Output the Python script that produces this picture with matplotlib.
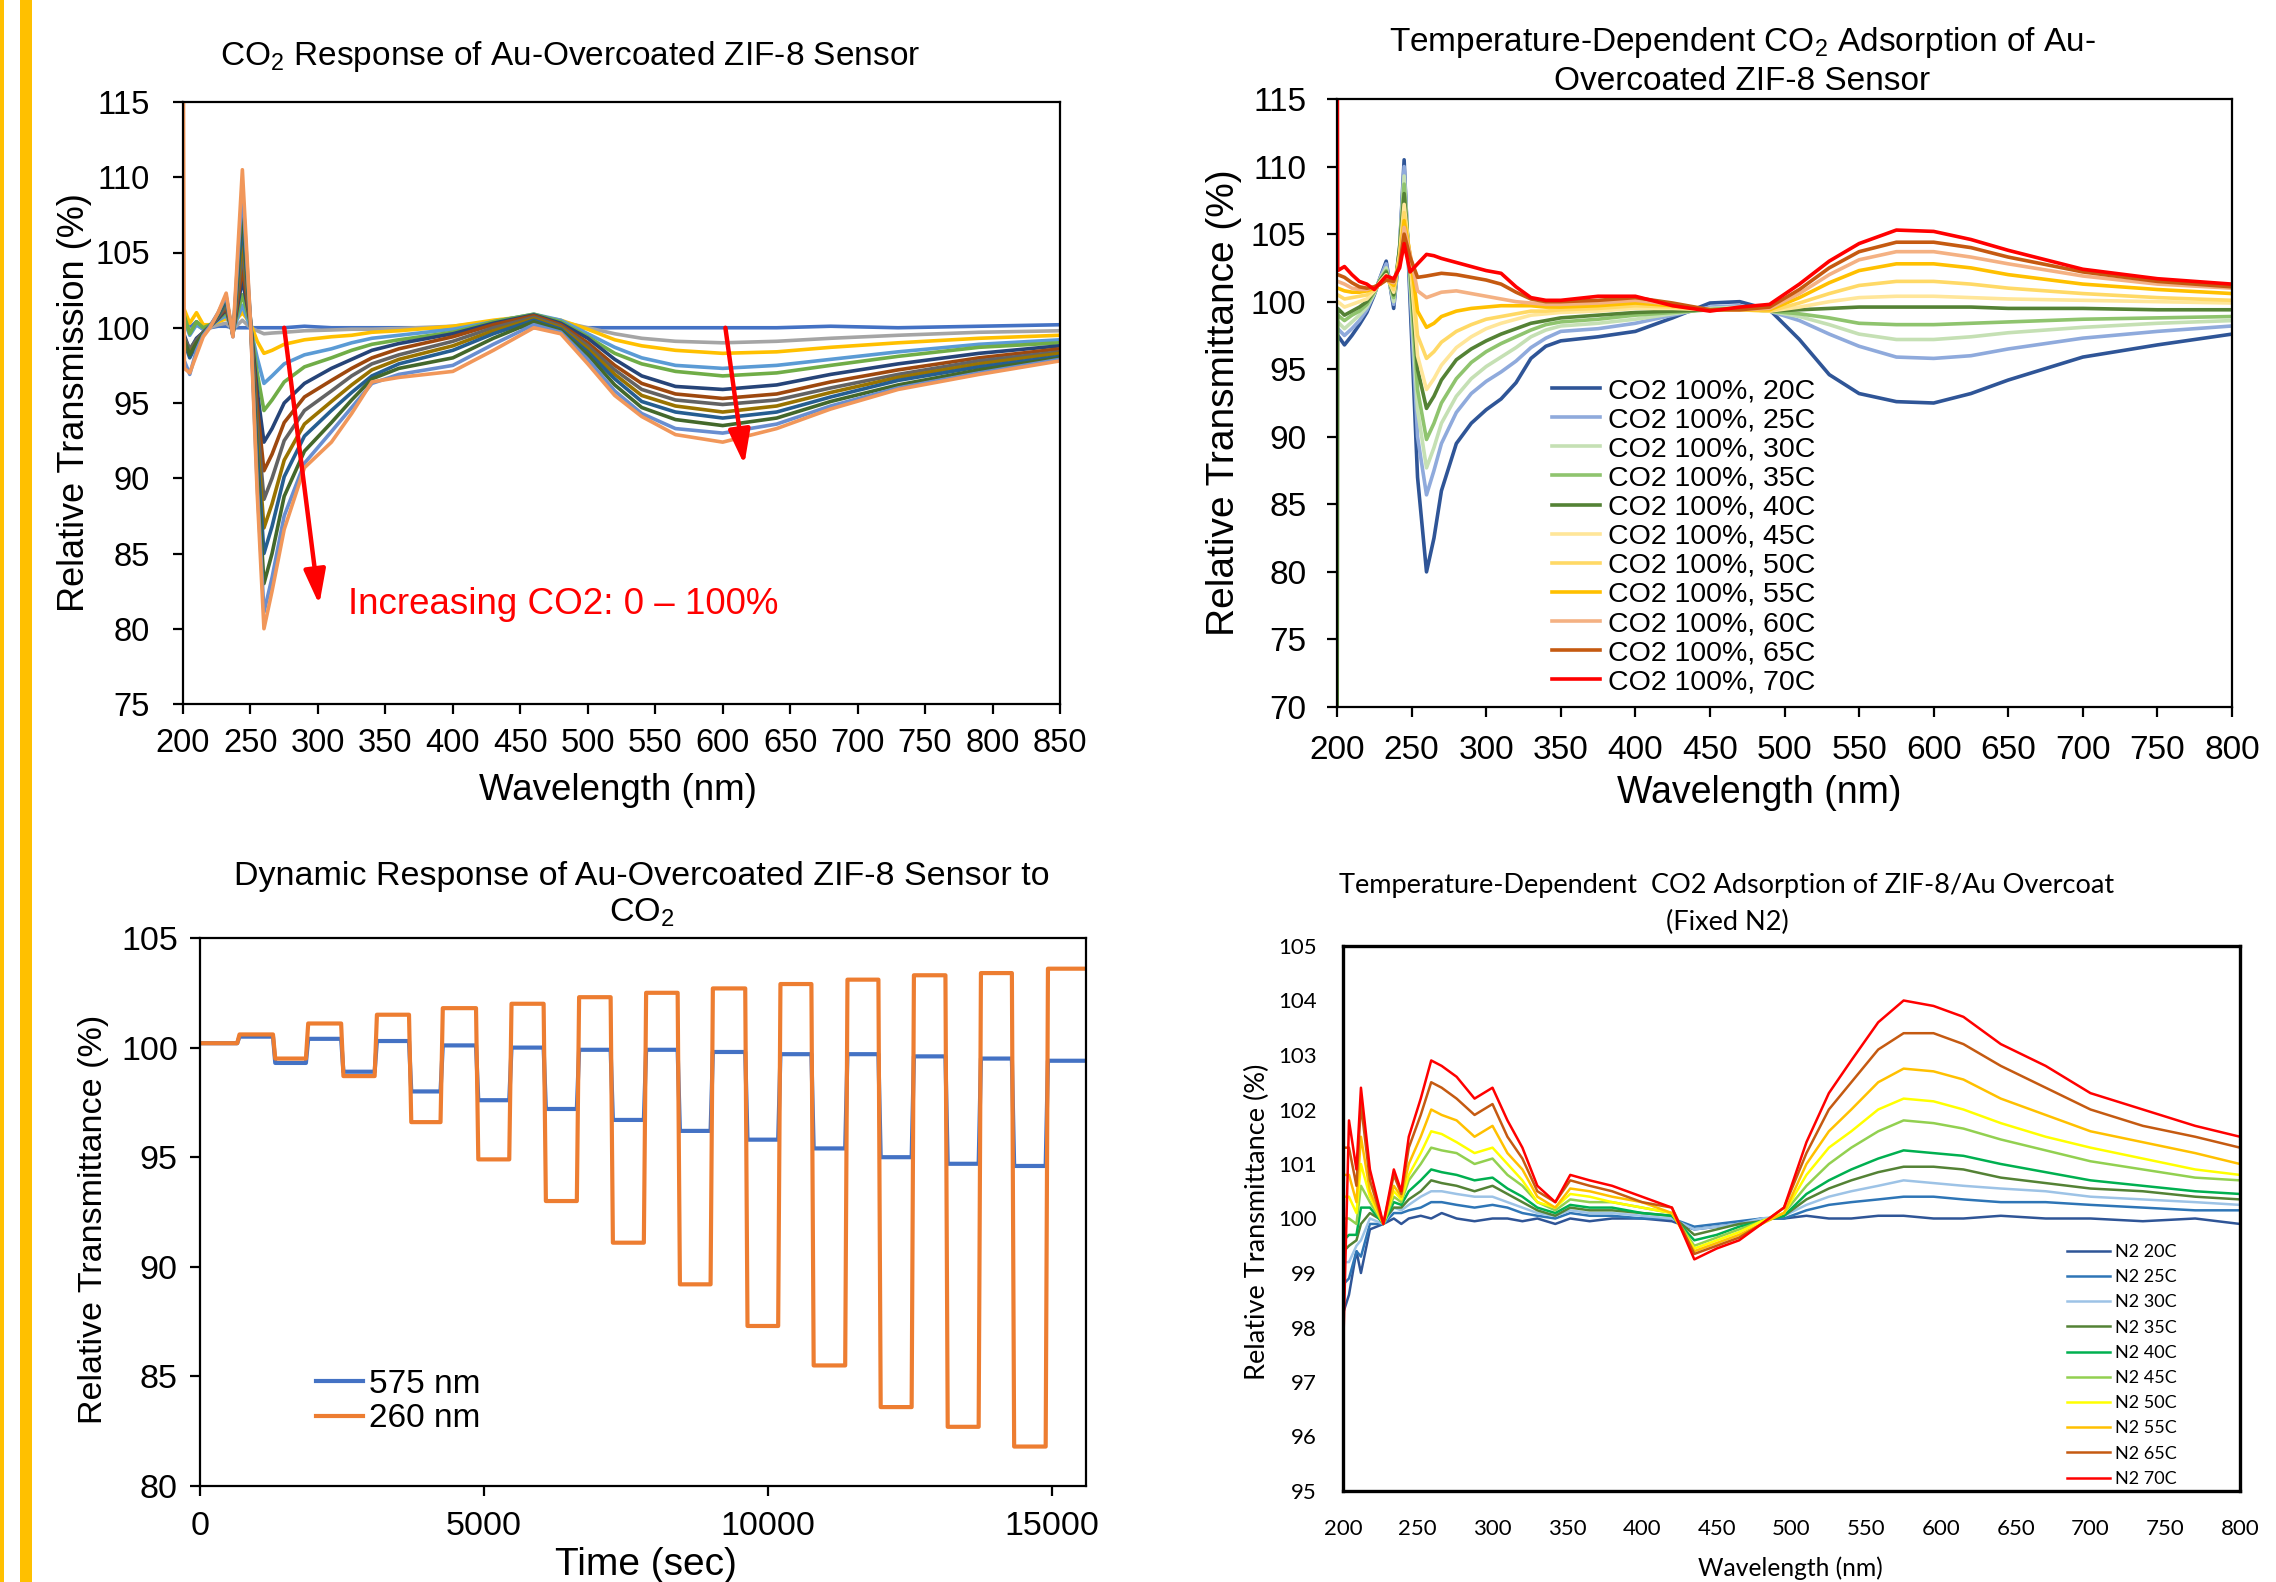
import matplotlib
matplotlib.use("Agg")
import matplotlib.pyplot as plt
from matplotlib.patches import Rectangle

plt.rcParams['font.family'] = ['Liberation Sans', 'DejaVu Sans']
plt.rcParams['mathtext.fontset'] = 'custom'
plt.rcParams['mathtext.rm'] = 'Liberation Sans'
plt.rcParams['mathtext.it'] = 'Liberation Sans:italic'
plt.rcParams['mathtext.bf'] = 'Liberation Sans:bold'

# ---------------- panel 1: CO2 response, 0 - 100 % CO2 ----------------
wl_1 = [200, 201, 205, 210, 215, 220, 226, 232, 237, 244, 250, 255, 260, 266, 275, 290,
        310, 325, 340, 360, 400, 430, 460, 480, 500, 520, 540, 565, 600, 640, 680, 730, 790, 850]
co2_colors = ['#4472C4', '#A5A5A5', '#FFC000', '#5B9BD5', '#70AD47', '#264478', '#9E480E',
              '#636363', '#997300', '#255E91', '#43682B', '#698ED0', '#F1975A']
co2_s00 = [100.3, 100.3, 100.0, 100.4, 99.9, 100.0, 100.1, 100.1, 100.0, 100.0, 100.0,
           100.0, 100.0, 100.0, 100.0, 100.1, 100.0, 100.0, 100.0, 100.0, 100.0, 100.1, 100.0,
           100.0, 100.0, 100.0, 100.0, 100.0, 100.0, 100.0, 100.1, 100.0, 100.1, 100.2]
co2_s01 = [100.5, 100.5, 99.8, 100.2, 99.9, 100.0, 100.2, 100.3, 99.9, 100.5, 100.0,
           99.8, 99.6, 99.65, 99.7, 99.8, 99.85, 99.9, 99.9, 99.95, 100.1, 100.4, 100.6,
           100.4, 100.0, 99.6, 99.3, 99.1, 99.0, 99.1, 99.3, 99.5, 99.7, 99.8]
co2_s02 = [101.2, 101.2, 100.3, 101.0, 100.2, 100.2, 100.4, 100.6, 100.3, 101.0, 100.3,
           99.1, 98.3, 98.5, 98.9, 99.2, 99.4, 99.5, 99.7, 99.8, 100.1, 100.5, 100.8,
           100.5, 99.9, 99.2, 98.8, 98.5, 98.3, 98.4, 98.7, 99.0, 99.3, 99.5]
co2_s03 = [100.5, 100.5, 99.5, 100.2, 99.9, 100.1, 100.5, 100.8, 99.8, 101.5, 100.0,
           98.0, 96.3, 96.8, 97.6, 98.2, 98.6, 99.0, 99.3, 99.5, 99.9, 100.4, 100.9,
           100.5, 99.6, 98.7, 98.0, 97.5, 97.3, 97.5, 97.9, 98.4, 98.9, 99.2]
co2_s04 = [100.8, 100.8, 99.6, 100.4, 100.0, 100.2, 100.6, 101.0, 99.8, 102.2, 100.2,
           97.0, 94.5, 95.2, 96.4, 97.4, 98.0, 98.5, 98.9, 99.2, 99.7, 100.4, 100.9,
           100.4, 99.4, 98.3, 97.6, 97.1, 96.8, 97.0, 97.5, 98.1, 98.7, 99.0]
co2_s05 = [99.5, 99.5, 98.5, 99.3, 99.7, 100.1, 100.6, 101.2, 99.7, 103.2, 100.3,
           95.8, 92.4, 93.3, 95.0, 96.3, 97.3, 97.9, 98.5, 98.95, 99.6, 100.3, 100.85,
           100.3, 99.3, 97.9, 96.8, 96.1, 95.9, 96.2, 96.9, 97.6, 98.3, 98.8]
co2_s06 = [99.0, 99.0, 98.2, 99.0, 99.6, 100.1, 100.7, 101.3, 99.6, 104.0, 100.3,
           94.8, 90.5, 91.6, 93.7, 95.4, 96.5, 97.3, 98.0, 98.6, 99.4, 100.2, 100.8,
           100.2, 99.0, 97.5, 96.3, 95.6, 95.3, 95.6, 96.4, 97.2, 98.0, 98.6]
co2_s07 = [99.3, 99.3, 98.6, 99.2, 99.7, 100.1, 100.7, 101.5, 99.6, 105.0, 100.4,
           93.7, 88.6, 90.0, 92.5, 94.5, 95.8, 96.8, 97.6, 98.2, 99.1, 100.0, 100.7,
           100.1, 98.8, 97.2, 95.9, 95.2, 94.9, 95.2, 96.0, 96.9, 97.8, 98.4]
co2_s08 = [99.0, 99.0, 98.3, 99.0, 99.6, 100.1, 100.8, 101.7, 99.5, 106.0, 100.4,
           92.7, 86.7, 88.3, 91.2, 93.6, 95.1, 96.2, 97.2, 97.9, 98.8, 99.8, 100.6,
           100.0, 98.6, 96.9, 95.5, 94.8, 94.4, 94.8, 95.7, 96.7, 97.6, 98.3]
co2_s09 = [99.0, 99.0, 98.0, 98.9, 99.6, 100.1, 100.8, 101.8, 99.5, 107.0, 100.5,
           91.8, 85.0, 86.8, 90.1, 92.8, 94.5, 95.7, 96.8, 97.6, 98.5, 99.6, 100.5,
           99.9, 98.4, 96.6, 95.1, 94.4, 94.0, 94.4, 95.4, 96.5, 97.4, 98.1]
co2_s10 = [99.2, 99.2, 98.2, 99.0, 99.6, 100.1, 100.9, 102.0, 99.5, 108.0, 100.5,
           90.7, 83.0, 85.0, 88.8, 91.8, 93.7, 95.2, 96.6, 97.3, 98.0, 99.3, 100.4,
           99.8, 98.2, 96.2, 94.7, 93.9, 93.5, 94.0, 95.1, 96.2, 97.2, 98.0]
co2_s11 = [97.8, 97.8, 96.9, 98.5, 99.5, 100.1, 101.0, 102.1, 99.4, 109.3, 100.5,
           89.6, 81.1, 83.4, 87.5, 91.0, 93.1, 94.7, 96.3, 96.9, 97.5, 98.9, 100.2,
           99.7, 97.9, 95.8, 94.3, 93.3, 93.0, 93.6, 94.8, 96.0, 97.0, 97.9]
co2_s12 = [125.0, 97.3, 97.0, 98.2, 99.4, 100.0, 101.0, 102.3, 99.4, 110.5, 100.4,
           89.0, 80.0, 82.5, 86.6, 90.7, 92.4, 94.3, 96.4, 96.7, 97.1, 98.5, 100.0,
           99.6, 97.6, 95.5, 94.1, 92.9, 92.4, 93.3, 94.6, 95.9, 96.9, 97.8]
co2_series = [co2_s00, co2_s01, co2_s02, co2_s03, co2_s04, co2_s05, co2_s06,
              co2_s07, co2_s08, co2_s09, co2_s10, co2_s11, co2_s12]

# ---------------- panel 2: CO2 100 %, 20 - 70 C ----------------
wl_2 = [200, 200.5, 205, 210, 215, 220, 225, 229, 233, 238, 242, 245, 249, 254, 260, 265,
        270, 280, 290, 300, 310, 320, 330, 340, 350, 375, 400, 425, 450, 470, 490, 510,
        530, 550, 575, 600, 625, 650, 700, 750, 800]
temp_labels = ['CO2 100%, 20C', 'CO2 100%, 25C', 'CO2 100%, 30C', 'CO2 100%, 35C',
               'CO2 100%, 40C', 'CO2 100%, 45C', 'CO2 100%, 50C', 'CO2 100%, 55C',
               'CO2 100%, 60C', 'CO2 100%, 65C', 'CO2 100%, 70C']
temp_colors = ['#2F5597', '#8FAADC', '#C5E0B4', '#8FC46E', '#548235', '#FFE699',
               '#FFD966', '#FFC000', '#F4B183', '#C55A11', '#FF0000']
t20 = [97.5, 97.5, 96.8, 97.5, 98.3, 99.2, 100.5, 101.8, 103.0, 99.5, 104.0, 110.5, 100.0,
       87.0, 80.0, 82.5, 86.0, 89.5, 91.0, 92.0, 92.8, 94.0, 95.8, 96.7, 97.1, 97.4, 97.8,
       98.8, 99.9, 100.0, 99.4, 97.2, 94.6, 93.2, 92.6, 92.5, 93.2, 94.2, 95.9, 96.8, 97.6]
t25 = [98.0, 98.0, 97.5, 98.0, 98.6, 99.4, 100.6, 101.8, 102.8, 99.8, 104.0, 110.0, 101.0,
       90.0, 85.7, 87.5, 89.5, 91.8, 93.2, 94.1, 94.8, 95.6, 96.6, 97.3, 97.8, 98.0, 98.4,
       99.0, 99.6, 99.7, 99.3, 98.6, 97.6, 96.7, 95.9, 95.8, 96.0, 96.5, 97.3, 97.8, 98.2]
t30 = [98.5, 98.5, 98.0, 98.5, 99.0, 99.6, 100.6, 101.7, 102.5, 100.0, 104.0, 109.3, 101.5,
       92.0, 87.7, 89.2, 91.0, 93.0, 94.3, 95.2, 95.9, 96.6, 97.4, 97.9, 98.2, 98.4, 98.7,
       99.1, 99.5, 99.6, 99.3, 98.9, 98.3, 97.6, 97.2, 97.2, 97.4, 97.7, 98.1, 98.4, 98.6]
t35 = [99.0, 99.0, 98.6, 99.0, 99.3, 99.8, 100.7, 101.6, 102.3, 100.3, 104.0, 108.7, 102.0,
       93.5, 89.8, 91.0, 92.5, 94.3, 95.5, 96.3, 96.9, 97.4, 97.9, 98.3, 98.5, 98.7, 99.0,
       99.2, 99.4, 99.5, 99.3, 99.1, 98.8, 98.4, 98.3, 98.3, 98.4, 98.5, 98.7, 98.8, 98.9]
t40 = [60.0, 99.5, 99.0, 99.3, 99.6, 100.0, 100.8, 101.6, 102.2, 100.5, 104.0, 108.0, 102.5,
       95.0, 92.1, 93.0, 94.2, 95.7, 96.5, 97.1, 97.6, 98.0, 98.4, 98.6, 98.8, 99.0, 99.2,
       99.3, 99.4, 99.5, 99.3, 99.4, 99.5, 99.6, 99.6, 99.6, 99.6, 99.5, 99.5, 99.4, 99.4]
t45 = [100.0, 100.0, 99.6, 99.8, 100.0, 100.2, 100.8, 101.5, 102.0, 100.7, 103.5, 107.2, 103.0,
       96.0, 93.5, 94.3, 95.3, 96.6, 97.4, 98.0, 98.4, 98.7, 99.0, 99.1, 99.2, 99.3, 99.5,
       99.5, 99.4, 99.4, 99.3, 99.6, 100.0, 100.3, 100.4, 100.4, 100.3, 100.2, 100.1, 100.0, 99.9]
t50 = [100.5, 100.5, 100.2, 100.3, 100.4, 100.5, 100.9, 101.4, 101.8, 100.9, 103.3, 106.6, 103.3,
       97.5, 95.8, 96.3, 97.0, 97.8, 98.3, 98.7, 98.9, 99.1, 99.3, 99.3, 99.4, 99.5, 99.7,
       99.6, 99.4, 99.4, 99.3, 99.9, 100.6, 101.2, 101.5, 101.5, 101.3, 101.0, 100.6, 100.3, 100.1]
t55 = [101.0, 101.0, 100.8, 100.7, 100.7, 100.8, 101.0, 101.3, 101.7, 101.2, 103.0, 106.0, 103.5,
       99.3, 98.1, 98.4, 98.9, 99.3, 99.5, 99.6, 99.7, 99.7, 99.7, 99.6, 99.6, 99.7, 99.9,
       99.7, 99.4, 99.4, 99.4, 100.3, 101.4, 102.3, 102.8, 102.8, 102.5, 102.0, 101.3, 100.9, 100.6]
t60 = [101.5, 101.5, 101.3, 101.0, 100.9, 100.9, 101.1, 101.3, 101.6, 101.4, 102.8, 105.5, 103.5,
       100.8, 100.3, 100.5, 100.7, 100.8, 100.6, 100.4, 100.2, 100.0, 99.9, 99.8, 99.8, 99.9, 100.1,
       99.8, 99.4, 99.4, 99.5, 100.6, 102.0, 103.1, 103.7, 103.7, 103.3, 102.8, 101.9, 101.3, 101.0]
t65 = [102.0, 102.0, 101.8, 101.4, 101.1, 101.0, 101.1, 101.3, 101.6, 101.5, 102.7, 105.0, 103.3,
       101.8, 101.9, 102.0, 102.1, 102.0, 101.8, 101.6, 101.3, 100.7, 100.2, 100.0, 100.0, 100.1, 100.3,
       99.9, 99.4, 99.4, 99.6, 100.9, 102.5, 103.7, 104.4, 104.4, 104.0, 103.3, 102.2, 101.5, 101.1]
t70 = [130.0, 102.3, 102.6, 102.0, 101.5, 101.3, 100.9, 101.4, 101.9, 101.7, 102.5, 104.3, 102.2,
       102.8, 103.5, 103.4, 103.2, 102.9, 102.6, 102.3, 102.1, 101.1, 100.3, 100.1, 100.1, 100.4, 100.4,
       99.7, 99.3, 99.6, 99.8, 101.3, 103.0, 104.3, 105.3, 105.2, 104.6, 103.8, 102.4, 101.7, 101.3]
temp_series = [t20, t25, t30, t35, t40, t45, t50, t55, t60, t65, t70]

# ---------------- panel 3: dynamic response ----------------
switch_t = [655, 1285, 1865, 2485, 3075, 3680, 4235, 4860, 5445, 6050, 6635, 7230, 7815,
            8410, 8990, 9600, 10180, 10765, 11360, 11945, 12530, 13125, 13710, 14295, 14890]
t_end = 15600
lv_575 = [100.2, 100.5, 99.3, 100.4, 98.9, 100.3, 98.0, 100.1, 97.6, 100.0, 97.2, 99.9, 96.7,
          99.9, 96.2, 99.8, 95.8, 99.7, 95.4, 99.7, 95.0, 99.6, 94.7, 99.5, 94.6, 99.4]
lv_260 = [100.2, 100.6, 99.5, 101.1, 98.7, 101.5, 96.6, 101.8, 94.9, 102.0, 93.0, 102.3, 91.1,
          102.5, 89.2, 102.7, 87.3, 102.9, 85.5, 103.1, 83.6, 103.3, 82.7, 103.4, 81.8, 103.6]

# ---------------- panel 4: fixed N2, 20 - 70 C ----------------
wl_4 = [200, 200.5, 204, 209, 212, 218, 227, 234, 239, 244, 252, 259, 266, 276, 288, 300,
        310, 320, 330, 342, 352, 365, 380, 400, 420, 435, 450, 465, 480, 495, 510, 525, 540,
        558, 575, 595, 615, 640, 670, 700, 735, 770, 800]
n2_labels = ['N2 20C', 'N2 25C', 'N2 30C', 'N2 35C', 'N2 40C', 'N2 45C', 'N2 50C',
             'N2 55C', 'N2 65C', 'N2 70C']
n2_colors = ['#2F5597', '#2E75B6', '#9DC3E6', '#548235', '#00B050', '#92D050', '#FFFF00',
             '#FFC000', '#C55A11', '#FF0000']
n20 = [98.3, 98.3, 98.6, 99.4, 99.0, 99.8, 99.9, 100.0, 99.9,
       100.0, 100.05, 100.0, 100.1, 100.0, 99.95, 100.0, 100.0, 99.95, 100.0, 99.9, 100.0,
       99.95, 100.0, 100.0, 99.95, 99.8, 99.85, 99.9, 100.0, 100.0, 100.05, 100.0, 100.0,
       100.05, 100.05, 100.0, 100.0, 100.05, 100.0, 100.0, 99.95, 100.0, 99.9]
n25 = [98.8, 98.8, 98.9, 99.4, 99.3, 99.9, 99.9, 100.1, 100.1,
       100.15, 100.2, 100.3, 100.3, 100.25, 100.2, 100.25, 100.2, 100.1, 100.05, 100.0, 100.1,
       100.05, 100.05, 100.0, 100.0, 99.85, 99.9, 99.95, 100.0, 100.0, 100.15, 100.25, 100.3,
       100.35, 100.4, 100.4, 100.35, 100.3, 100.3, 100.25, 100.2, 100.15, 100.15]
n30 = [99.2, 99.2, 99.2, 99.5, 99.6, 100.0, 99.9, 100.2, 100.15,
       100.25, 100.4, 100.5, 100.5, 100.45, 100.4, 100.4, 100.3, 100.2, 100.1, 100.05, 100.15,
       100.1, 100.1, 100.05, 100.0, 99.8, 99.85, 99.9, 100.0, 100.05, 100.25, 100.4, 100.5,
       100.6, 100.7, 100.65, 100.6, 100.55, 100.5, 100.4, 100.35, 100.3, 100.25]
n35 = [99.4, 99.4, 99.5, 99.6, 99.9, 100.1, 99.95, 100.2, 100.2,
       100.35, 100.5, 100.7, 100.65, 100.6, 100.5, 100.6, 100.45, 100.3, 100.15, 100.05, 100.2,
       100.15, 100.15, 100.1, 100.05, 99.7, 99.8, 99.9, 99.95, 100.05, 100.35, 100.55, 100.7,
       100.85, 100.95, 100.95, 100.9, 100.75, 100.65, 100.55, 100.5, 100.4, 100.35]
n40 = [99.6, 99.6, 99.7, 99.7, 100.2, 100.2, 99.9, 100.3, 100.25,
       100.5, 100.7, 100.9, 100.85, 100.8, 100.7, 100.75, 100.55, 100.4, 100.2, 100.1, 100.25,
       100.2, 100.2, 100.1, 100.05, 99.6, 99.7, 99.85, 99.95, 100.05, 100.45, 100.7, 100.9,
       101.1, 101.25, 101.2, 101.15, 101.0, 100.85, 100.7, 100.6, 100.5, 100.45]
n45 = [100.0, 100.0, 100.0, 99.9, 100.6, 100.3, 99.9, 100.4, 100.3,
       100.7, 101.0, 101.3, 101.25, 101.2, 101.0, 101.1, 100.8, 100.6, 100.3, 100.15, 100.35,
       100.3, 100.3, 100.2, 100.1, 99.5, 99.65, 99.8, 99.95, 100.1, 100.6, 101.0, 101.3,
       101.6, 101.8, 101.75, 101.65, 101.45, 101.25, 101.05, 100.9, 100.75, 100.7]
n50 = [100.4, 100.4, 100.4, 100.1, 101.0, 100.4, 99.9, 100.5, 100.35,
       100.8, 101.2, 101.6, 101.55, 101.4, 101.2, 101.3, 101.0, 100.7, 100.3, 100.2, 100.45,
       100.4, 100.3, 100.2, 100.1, 99.45, 99.6, 99.75, 99.95, 100.1, 100.8, 101.3, 101.6,
       102.0, 102.2, 102.15, 102.0, 101.75, 101.5, 101.3, 101.1, 100.9, 100.8]
n55 = [94.0, 100.8, 100.8, 100.3, 101.5, 100.5, 99.9, 100.6, 100.4,
       101.0, 101.5, 102.0, 101.9, 101.8, 101.5, 101.7, 101.2, 100.9, 100.4, 100.2, 100.55,
       100.5, 100.4, 100.3, 100.1, 99.4, 99.55, 99.7, 99.9, 100.1, 101.0, 101.6, 102.0,
       102.5, 102.75, 102.7, 102.55, 102.2, 101.9, 101.6, 101.4, 101.2, 101.0]
n65 = [101.3, 101.3, 101.3, 100.6, 102.1, 100.7, 99.9, 100.8, 100.45,
       101.3, 101.9, 102.5, 102.4, 102.2, 101.9, 102.1, 101.5, 101.1, 100.5, 100.3, 100.7,
       100.6, 100.5, 100.3, 100.2, 99.35, 99.5, 99.65, 99.9, 100.2, 101.2, 102.0, 102.5,
       103.1, 103.4, 103.4, 103.2, 102.8, 102.4, 102.0, 101.7, 101.5, 101.3]
n70 = [106.0, 98.0, 101.8, 100.9, 102.4, 100.9, 99.9, 100.9, 100.5,
       101.5, 102.2, 102.9, 102.8, 102.6, 102.2, 102.4, 101.8, 101.3, 100.6, 100.3, 100.8,
       100.7, 100.6, 100.4, 100.2, 99.25, 99.45, 99.6, 99.9, 100.2, 101.4, 102.3, 102.9,
       103.6, 104.0, 103.9, 103.7, 103.2, 102.8, 102.3, 102.0, 101.7, 101.5]
n2_series = [n20, n25, n30, n35, n40, n45, n50, n55, n65, n70]

# ---------------------------------------------------------------------------
W, H = 2276, 1582
fig = plt.figure(figsize=(W / 100, H / 100), dpi=100)


def axes_px(x0, y0, x1, y1):
    # axes box given in picture pixels (top-left origin)
    return fig.add_axes([x0 / W, 1 - y1 / H, (x1 - x0) / W, (y1 - y0) / H])


def text_px(x, y, s, **kw):
    fig.text(x / W, 1 - y / H, s, ha='center', va='center', **kw)


def excel_style(ax, fs, ypad, xpad):
    for sp in ax.spines.values():
        sp.set_linewidth(1.6)
        sp.set_color('black')
    ax.tick_params(direction='out', length=7, width=1.6, labelsize=fs,
                   top=False, right=False, colors='black')
    ax.tick_params(axis='y', pad=ypad)
    ax.tick_params(axis='x', pad=xpad)


# yellow side bars
fig.add_artist(Rectangle((0, 0), 4 / W, 1, transform=fig.transFigure, color='#FFC000', lw=0))
fig.add_artist(Rectangle((20 / W, 0), 12 / W, 1, transform=fig.transFigure, color='#FFC000', lw=0))

# ---- panel 1
ax1 = axes_px(183, 102, 1060, 704)
for vals, col in zip(co2_series, co2_colors):
    ax1.plot(wl_1, vals, color=col, lw=2.6)
ax1.set_xlim(200, 850)
ax1.set_ylim(75, 115)
ax1.set_xticks(range(200, 851, 50))
ax1.set_yticks(range(75, 116, 5))
excel_style(ax1, 23.5, 17, 10)
arrow = dict(arrowstyle='-|>,head_length=0.7,head_width=0.22', color='#FF0000', lw=3.2,
             mutation_scale=30, shrinkA=0, shrinkB=0)
ax1.annotate('', xy=(301, 81.6), xytext=(275, 100.0), arrowprops=arrow)
ax1.annotate('', xy=(616, 90.9), xytext=(602, 100.0), arrowprops=arrow)
ax1.text(322, 81.6, 'Increasing CO2: 0 \u2013 100%', color='#FF0000', fontsize=26.5,
         ha='left', va='center')
text_px(570, 57, r'CO$_2$ Response of Au-Overcoated ZIF-8 Sensor', fontsize=24)
text_px(75, 403, 'Relative Transmission (%)', fontsize=26, rotation=90)
text_px(618, 791, 'Wavelength (nm)', fontsize=26.5)

# ---- panel 2
ax2 = axes_px(1337, 99, 2232, 707)
for vals, col, lab in zip(temp_series, temp_colors, temp_labels):
    ax2.plot(wl_2, vals, color=col, lw=2.6, label=lab)
ax2.set_xlim(200, 800)
ax2.set_ylim(70, 115)
ax2.set_xticks(range(200, 801, 50))
ax2.set_yticks(range(70, 116, 5))
excel_style(ax2, 24, 15, 13)
ax2.legend(loc='upper left', bbox_to_anchor=(1552 / W, 1 - 378 / H), bbox_transform=fig.transFigure,
           frameon=False, fontsize=20.5, handlelength=1.7, handletextpad=0.25,
           labelspacing=0.11, borderpad=0, borderaxespad=0)
text_px(1742, 42, r'Temperature-Dependent CO$_2$ Adsorption of Au-', fontsize=24)
text_px(1742, 81, 'Overcoated ZIF-8 Sensor', fontsize=24)
text_px(1224, 403, 'Relative Transmittance (%)', fontsize=28, rotation=90)
text_px(1759, 793, 'Wavelength (nm)', fontsize=27)

# ---- panel 3
ts = [0]
v575 = [lv_575[0]]
v260 = [lv_260[0]]
for i, t in enumerate(switch_t):
    ts += [t, t + 40]
    v575 += [lv_575[i], lv_575[i + 1]]
    v260 += [lv_260[i], lv_260[i + 1]]
ts.append(t_end)
v575.append(lv_575[-1])
v260.append(lv_260[-1])

ax3 = axes_px(200, 938, 1086, 1486)
ax3.plot(ts, v575, color='#4472C4', lw=3.0, label='575 nm')
ax3.plot(ts, v260, color='#ED7D31', lw=3.0, label='260 nm')
ax3.set_xlim(0, 15600)
ax3.set_ylim(80, 105)
ax3.set_xticks([0, 5000, 10000, 15000])
ax3.set_yticks(range(80, 106, 5))
excel_style(ax3, 24.5, 9, 11)
ax3.legend(loc='upper left', bbox_to_anchor=(316 / W, 1 - 1369 / H), bbox_transform=fig.transFigure,
           frameon=False, fontsize=24, handlelength=1.4, handletextpad=0.2,
           labelspacing=0.1, borderpad=0, borderaxespad=0)
text_px(642, 877, 'Dynamic Response of Au-Overcoated ZIF-8 Sensor to', fontsize=24.5)
text_px(642, 913, r'CO$_2$', fontsize=24.5)
text_px(94, 1219, 'Relative Transmittance (%)', fontsize=24.5, rotation=90)
text_px(646, 1565, 'Time (sec)', fontsize=28)

# ---- panel 4 (Calibri look)
ax4 = axes_px(1343, 946, 2240, 1491)
for vals, col, lab in zip(n2_series, n2_colors, n2_labels):
    ax4.plot(wl_4, vals, color=col, lw=1.8, label=lab)
ax4.set_xlim(200, 800)
ax4.set_ylim(95, 105)
ax4.set_xticks(range(200, 801, 50))
ax4.set_yticks(range(95, 106, 1))
for sp in ax4.spines.values():
    sp.set_linewidth(2.4)
    sp.set_color('black')
ax4.tick_params(length=0, labelsize=16, pad=19)
ax4.tick_params(axis='x', pad=20)
for lab in ax4.get_xticklabels() + ax4.get_yticklabels():
    lab.set_fontfamily('Lato')
ax4.legend(loc='upper left', bbox_to_anchor=(2067 / W, 1 - 1244 / H),
           bbox_transform=fig.transFigure, frameon=False,
           prop={'family': 'Lato', 'size': 13}, handlelength=2.4, handletextpad=0.28,
           labelspacing=0.51, borderpad=0, borderaxespad=0)
text_px(1727, 885, 'Temperature-Dependent  CO2 Adsorption of ZIF-8/Au Overcoat',
        fontsize=19.5, family='Lato')
text_px(1727, 922, '(Fixed N2)', fontsize=19.5, family='Lato')
text_px(1257, 1222, 'Relative Transmittance (%)', fontsize=19.5, rotation=90, family='Lato')
text_px(1790, 1568, 'Wavelength (nm)', fontsize=17.7, family='Lato')

fig.savefig('out.png', dpi=100)
